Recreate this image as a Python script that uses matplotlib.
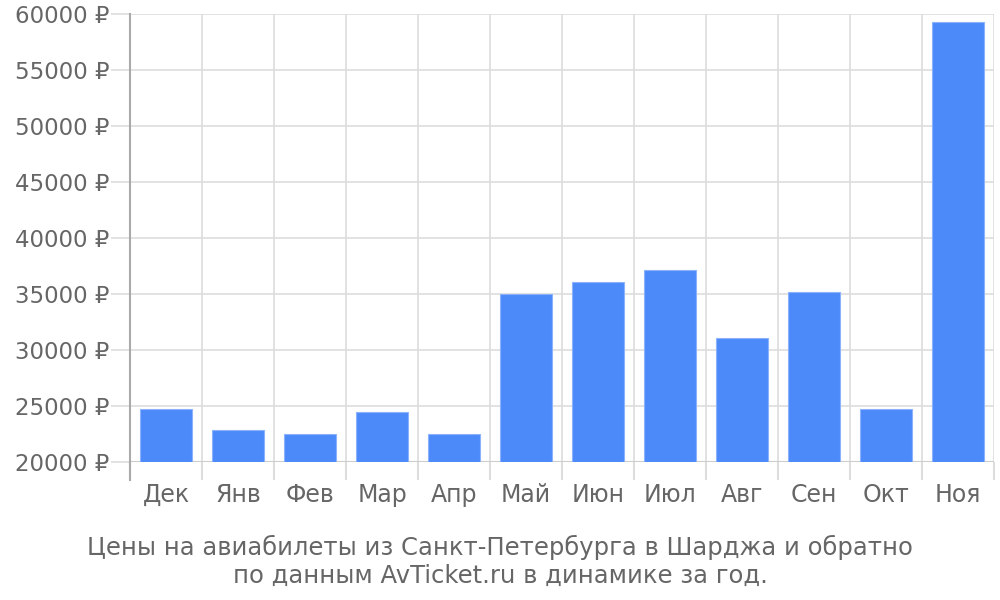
import numpy as np
import matplotlib
matplotlib.use("Agg")
import matplotlib.pyplot as plt
from matplotlib.ticker import FixedLocator, FuncFormatter

months = ["Дек", "Янв", "Фев", "Мар", "Апр", "Май", "Июн", "Июл", "Авг", "Сен", "Окт", "Ноя"]
prices = [24750, 22860, 22530, 24440, 22530, 35030, 36100, 37170, 31040, 35150, 24760, 59290]
y_ticks = [20000, 25000, 30000, 35000, 40000, 45000, 50000, 55000, 60000]
caption = ("Цены на авиабилеты из Санкт-Петербурга в Шарджа и обратно\n"
           "по данным AvTicket.ru в динамике за год.")

TEXT = "#666666"
GRID = "#dddddd"

fig = plt.figure(figsize=(10, 6), dpi=100)
ax = fig.add_axes([0.13, 0.23, 0.864, 0.7467])

x = np.arange(len(months))
ax.bar(x, np.array(prices) - y_ticks[0], bottom=y_ticks[0], width=0.72,
       color="#4d8af9", edgecolor="#8cb2fb", linewidth=0.8, zorder=3)

ax.set_xlim(-0.5, len(months) - 0.5)
ax.set_ylim(y_ticks[0], y_ticks[-1])

# category boundaries carry the grid and the long tick marks
ax.xaxis.set_major_locator(FixedLocator(np.arange(len(months) + 1) - 0.5))
ax.xaxis.set_major_formatter(FuncFormatter(lambda v, p: ""))
ax.set_xticks(x, months, minor=True)
ax.tick_params(axis="x", which="major", length=13, color=GRID, width=1.5)
ax.tick_params(axis="x", which="minor", length=0, pad=15, labelsize=17, labelcolor=TEXT)

ax.set_yticks(y_ticks)
ax.set_yticklabels([f"{v} ₽" for v in y_ticks])
ax.tick_params(axis="y", length=14, width=1.2, color=GRID, pad=1,
               labelsize=16.5, labelcolor=TEXT)

ax.grid(True, which="major", color=GRID, linewidth=1.2, zorder=0)
ax.set_axisbelow(True)

for side in ["top", "right", "bottom"]:
    ax.spines[side].set_visible(False)
ax.spines["left"].set_color("#aaaaaa")
ax.spines["left"].set_linewidth(1.5)
ax.axhline(y_ticks[0], color="#cccccc", linewidth=1.5, zorder=2)
# left axis line runs a little below the plot area
ax.plot([-0.5, -0.5], [y_ticks[0] - 1600, y_ticks[0]], color="#aaaaaa",
        linewidth=1.5, clip_on=False)

fig.text(0.5, 1 - 547 / 600, caption.split("\n")[0], ha="center", va="center",
         fontsize=17.5, color=TEXT)
fig.text(0.5, 1 - 576 / 600, caption.split("\n")[1], ha="center", va="center",
         fontsize=17.5, color=TEXT)

fig.savefig("out.png", dpi=100)
